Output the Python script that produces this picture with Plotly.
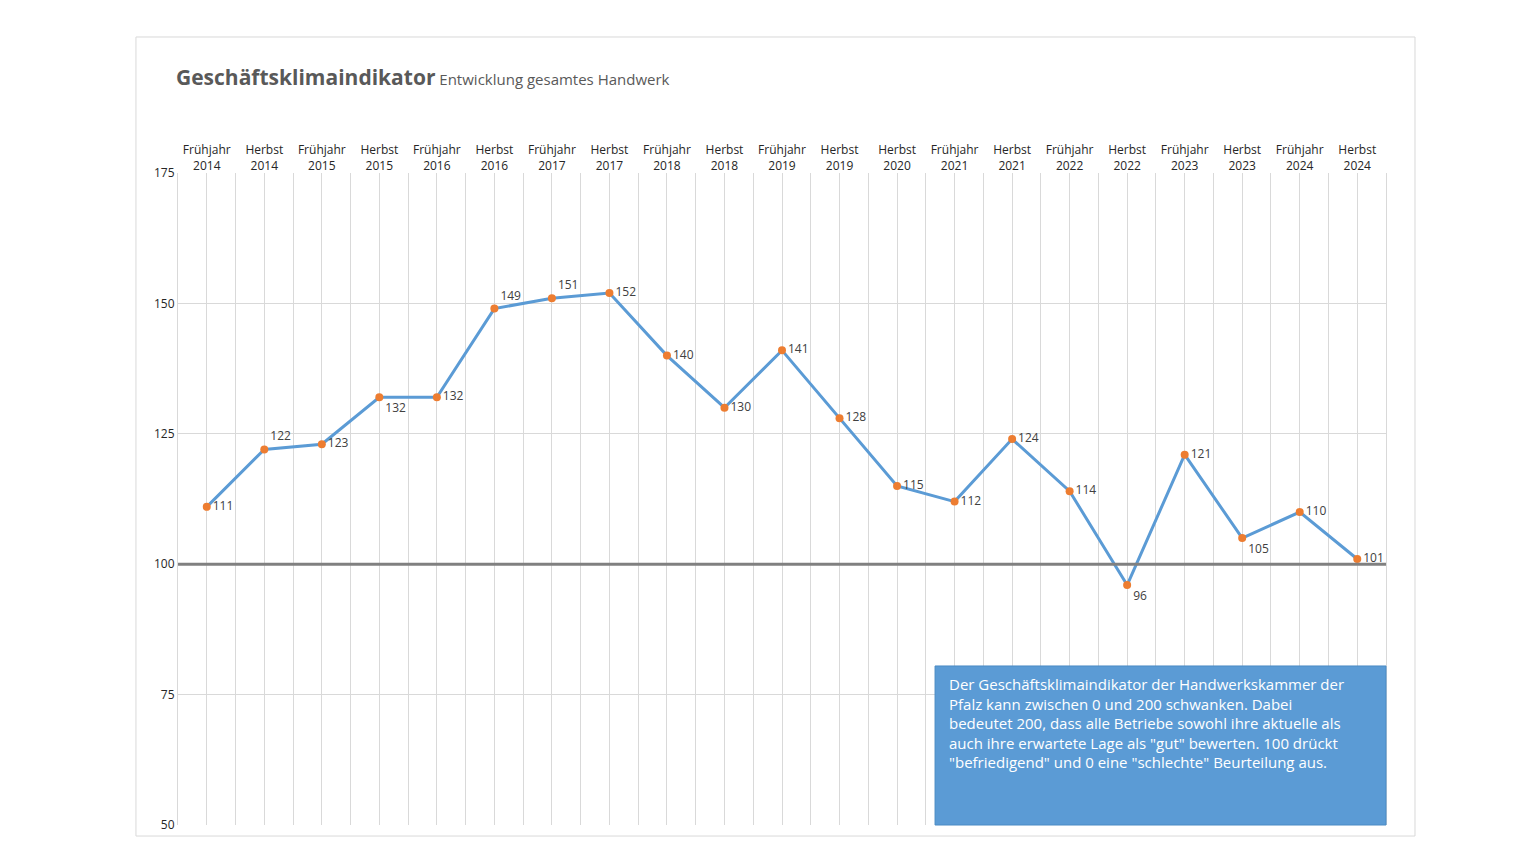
import plotly.graph_objects as go

categories = ["Frühjahr<br>2014", "Herbst<br>2014", "Frühjahr<br>2015", "Herbst<br>2015",
              "Frühjahr<br>2016", "Herbst<br>2016", "Frühjahr<br>2017", "Herbst<br>2017",
              "Frühjahr<br>2018", "Herbst<br>2018", "Frühjahr<br>2019", "Herbst<br>2019",
              "Herbst<br>2020", "Frühjahr<br>2021", "Herbst<br>2021", "Frühjahr<br>2022",
              "Herbst<br>2022", "Frühjahr<br>2023", "Herbst<br>2023", "Frühjahr<br>2024",
              "Herbst<br>2024"]
values = [111, 122, 123, 132, 132, 149, 151, 152, 140, 130, 141, 128,
          115, 112, 124, 114, 96, 121, 105, 110, 101]
label_pos = ["middle right", "top right", "middle right", "bottom right", "middle right",
             "top right", "top right", "middle right", "middle right", "middle right",
             "middle right", "middle right", "middle right", "middle right", "middle right",
             "middle right", "bottom right", "middle right", "bottom right", "middle right",
             "middle right"]

xs = list(range(len(categories)))

fig = go.Figure()
fig.add_trace(go.Scatter(
    x=xs, y=values, mode="lines+markers+text",
    line=dict(color="#5B9BD5", width=3),
    marker=dict(color="#ED7D31", size=8),
    text=[str(v) for v in values], textposition=label_pos,
    textfont=dict(size=12, color="#404040"),
    cliponaxis=False, showlegend=False))

# frame and info box
fig.add_shape(type="rect", xref="paper", yref="paper", x0=-0.0348, x1=1.024,
              y0=-0.0169, y1=1.2086, line=dict(color="#D9D9D9", width=1), layer="below")
fig.add_shape(type="line", xref="paper", yref="y", x0=0, x1=1, y0=100, y1=100,
              line=dict(color="#808080", width=3))
fig.add_shape(type="rect", xref="paper", yref="paper", x0=0.6267, x1=1.0, y0=0, y1=0.2439,
              fillcolor="#5B9BD5", line=dict(color="#4A8AC4", width=1))
fig.add_annotation(
    xref="paper", yref="paper", x=0.6366, y=0.235, xanchor="left", yanchor="top",
    align="left", showarrow=False,
    font=dict(size=15, color="white", family="Open Sans"),
    text="Der Geschäftsklimaindikator der Handwerkskammer der<br>"
         "Pfalz kann zwischen 0 und 200 schwanken. Dabei<br>"
         "bedeutet 200, dass alle Betriebe sowohl ihre aktuelle als<br>"
         "auch ihre erwartete Lage als \"gut\" bewerten. 100 drückt<br>"
         "\"befriedigend\" und 0 eine \"schlechte\" Beurteilung aus.")
fig.add_annotation(
    xref="paper", yref="paper", x=-0.003, y=1.147, xanchor="left", yanchor="middle",
    showarrow=False, font=dict(color="#595959", family="Open Sans"),
    text="<b><span style='font-size:21px'>Geschäftsklimaindikator</span></b>"
         "<span style='font-size:15px'> Entwicklung gesamtes Handwerk</span>")

fig.update_xaxes(
    side="top", range=[-0.5, len(categories) - 0.5],
    tickvals=xs, ticktext=categories, tickfont=dict(size=12, color="#262626"),
    showgrid=True, gridcolor="#D9D9D9", gridwidth=1,
    minor=dict(dtick=0.5, tick0=-0.5, showgrid=True, gridcolor="#D9D9D9"),
    showline=False, zeroline=False, ticks="")
fig.update_yaxes(
    range=[50, 175], dtick=25, tickfont=dict(size=12, color="#262626"),
    showgrid=True, gridcolor="#D9D9D9", zeroline=False, ticks="",
    showline=True, linecolor="#D9D9D9", mirror=True)

fig.update_layout(
    width=1520, height=855, margin=dict(l=170, r=142, t=165, b=38),
    plot_bgcolor="white", paper_bgcolor="white",
    font=dict(family="Open Sans"))

fig.write_html("out.html")
